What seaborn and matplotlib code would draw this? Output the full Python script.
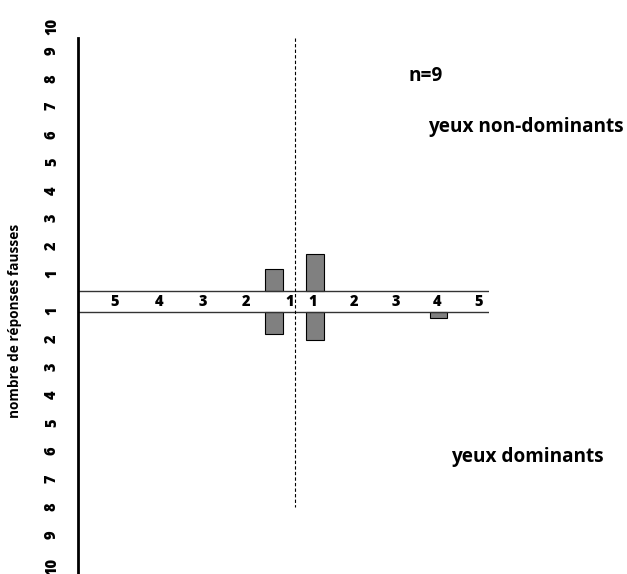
import numpy as np
import pandas as pd
import matplotlib
matplotlib.use("Agg")
import matplotlib.pyplot as plt
import seaborn as sns

# ---- data ----
slots = ["G5", "G4", "G3", "G2", "G1", "D1", "D2", "D3", "D4", "D5"]
slot_labels = ["5", "4", "3", "2", "1", "1", "2", "3", "4", "5"]
non_dominant = [0, 0, 0, 0, 0.78, 1.33, 0, 0, 0, 0]   # upper (yeux non-dominants)
dominant = [0, 0, 0, 0, 0.78, 1.00, 0, 0, 0.22, 0]     # lower (yeux dominants)
y_tick_labels_up = [str(k) for k in range(1, 11)]
y_tick_labels_down = [str(k) for k in range(1, 11)]
ylabel = "nombre de réponses fausses"
n_text = "n=9"
label_up = "yeux non-dominants"
label_down = "yeux dominants"

sns.set_theme(style="white")
plt.rcParams["font.family"] = ["Open Sans", "DejaVu Sans"]
plt.rcParams["text.color"] = "black"
plt.rcParams["ytick.color"] = "black"
plt.rcParams["ytick.labelcolor"] = "black"

W, H = 627, 574
fig = plt.figure(figsize=(W / 100, H / 100), dpi=100)
ax = fig.add_axes([78 / W, 0, 411 / W, 1])

gap = 0.375  # half band height in data units
df_up = pd.DataFrame({"slot": slots, "v": non_dominant})
df_dn = pd.DataFrame({"slot": slots, "v": [-v for v in dominant]})

sns.barplot(data=df_up, x="slot", y="v", order=slots, color="#808080",
            saturation=1, width=0.42, edgecolor="black", linewidth=0.8, ax=ax)
n_up = len(ax.patches)
sns.barplot(data=df_dn, x="slot", y="v", order=slots, color="#808080",
            saturation=1, width=0.42, edgecolor="black", linewidth=0.8, ax=ax)
for i, p in enumerate(ax.patches):
    if p.get_height() == 0:
        p.set_visible(False)
        continue
    p.set_y(p.get_y() + (gap if i < n_up else -gap))

ax.set_xlim(-0.78, 9.24)
ax.set_ylim(-9.732, 10.768)

# band lines
ax.axhline(gap, color="#333333", lw=1)
ax.axhline(-gap, color="#333333", lw=1)
# dashed separator
ax.plot([4.5, 4.5], [9.41, -7.34], color="black", lw=0.8, ls=(0, (3, 2)))

# category labels in band
pos_left = np.linspace(0.12, 4.39, 5)
pos_right = np.linspace(4.95, 8.98, 5)
for x, t in zip(list(pos_left) + list(pos_right), slot_labels):
    ax.text(x, 0, t, ha="center", va="center", fontsize=10.5,
            fontweight="heavy", color="black")

# spines
for s in ["top", "right", "bottom"]:
    ax.spines[s].set_visible(False)
ax.spines["left"].set_color("black")
ax.spines["left"].set_linewidth(2)
ax.spines["left"].set_bounds(-9.732, 9.41)

ax.set_xticks([])
ax.set_xlabel("")
yt = [k - 0.085 for k in range(1, 11)] + [0.625 - k for k in range(1, 11)]
ax.set_yticks(yt)
ax.set_yticklabels(y_tick_labels_up + y_tick_labels_down, rotation=90,
                   fontsize=10.5, fontweight="heavy", color="black")
ax.tick_params(axis="y", length=0, pad=13)
ax.set_ylabel("")

fig.text(15 / W, 1 - 321 / H, ylabel, rotation=90, ha="center", va="center",
         fontsize=9.8, fontweight="bold", color="black")
fig.text(426 / W, 1 - 76 / H, n_text, ha="center", va="center",
         fontsize=13.7, fontweight="bold", color="black")
fig.text(526 / W, 1 - 127 / H, label_up, ha="center", va="center",
         fontsize=13.7, fontweight="bold", color="black")
fig.text(527 / W, 1 - 457 / H, label_down, ha="center", va="center",
         fontsize=13.7, fontweight="bold", color="black")

fig.savefig("out.png", dpi=100)
